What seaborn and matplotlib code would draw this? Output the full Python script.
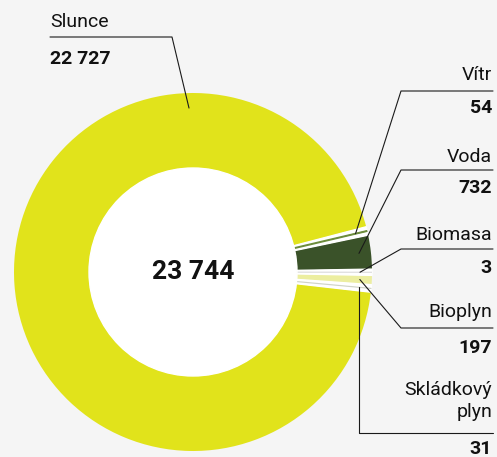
import numpy as np
import matplotlib.pyplot as plt
import seaborn as sns

# data
sources = ['Slunce', 'Vítr', 'Voda', 'Biomasa', 'Bioplyn', 'Skládkový\nplyn']
values = [22727, 54, 732, 3, 197, 31]
colors = ['#e1e31b', '#6c8c3c', '#3a5229', '#d6d6d6', '#eceea0', '#cfd3c6']

total = sum(values)

def fmt(v):
    return f"{v:,}".replace(",", " ")

sns.set_theme(style='white')
plt.rcParams['font.family'] = ['Roboto', 'DejaVu Sans']

W, H = 497, 457
bg = '#f5f5f5'
cx, cy = 193, H - 272
R, r_in = 179, 104

fig = plt.figure(figsize=(W / 100, H / 100), dpi=100, facecolor=bg)
ax = fig.add_axes([0, 0, 1, 1])
ax.set_facecolor(bg)

# pad between slices (1 degree each), white spacer wedges
pad_deg = 1.0
gap = total * pad_deg / (360 - len(values) * pad_deg)
pie_vals, pie_cols = [], []
for v, c in zip(values, colors):
    pie_vals += [v, gap]
    pie_cols += [c, 'white']

wedges, _ = ax.pie(pie_vals, colors=pie_cols, startangle=-6.5, counterclock=False,
                   center=(cx, cy), radius=R,
                   wedgeprops=dict(width=R - r_in, linewidth=0))
for w in wedges[1::2]:
    w.set_edgecolor('white')
    w.set_linewidth(0.9)
    w.set_zorder(3)
slices = wedges[0::2]

# tiny slices drawn as thin strokes so they stay visible
for w, col in zip(slices, colors):
    span = w.theta2 - w.theta1
    if span < 1:
        t = np.radians((w.theta1 + w.theta2) / 2)
        arc = np.radians(span) * (R + r_in) / 2
        ax.plot([cx + r_in * np.cos(t), cx + R * np.cos(t)],
                [cy + r_in * np.sin(t), cy + R * np.sin(t)],
                color=col, lw=max(1.0, arc) * 0.72, solid_capstyle='butt', zorder=4)

ax.add_patch(plt.Circle((cx, cy), r_in, color='white', zorder=5))
ax.text(cx, cy, fmt(total), ha='center', va='center', fontsize=19,
        fontweight='bold', color='#111111', zorder=6)

def anchor(theta_deg, r=167):
    t = np.radians(theta_deg)
    return cx + r * np.cos(t), cy + r * np.sin(t)

line_kw = dict(color='#1a1a1a', lw=0.8, zorder=7)
txt = '#111111'
fs = 14

# Slunce label on the left top
sx, sy = anchor(91.4, 164)
ax.plot([50, 172, sx], [H - 37, H - 37, sy], **line_kw)
ax.text(50, H - 27, sources[0], ha='left', va='baseline', fontsize=fs, color=txt)
ax.text(50, H - 64, fmt(values[0]), ha='left', va='baseline', fontsize=fs,
        fontweight='bold', color=txt)

# right side labels: (name baseline, line y, value baseline)
right_rows = [(80, 91, 113), (162, 170, 193), (240, 249, 273),
              (317, 328, 353), (417, 433, 454)]
x_right = 492
for i, (nb, ly, vb) in enumerate(right_rows, start=1):
    w = slices[i]
    px, py = anchor((w.theta1 + w.theta2) / 2)
    if i == len(values) - 1:
        ax.plot([px, px, x_right + 1], [py, H - ly, H - ly], **line_kw)
    else:
        ax.plot([px, 401, x_right + 1], [py, H - ly, H - ly], **line_kw)
    ax.text(x_right, H - nb, sources[i], ha='right', va='baseline', fontsize=fs,
            color=txt, linespacing=1.3)
    ax.text(x_right, H - vb, fmt(values[i]), ha='right', va='baseline',
            fontsize=fs, fontweight='bold', color=txt)

ax.set_xlim(0, W)
ax.set_ylim(0, H)
ax.set_aspect('equal')
ax.axis('off')

fig.savefig('out.png', dpi=100, facecolor=bg)
